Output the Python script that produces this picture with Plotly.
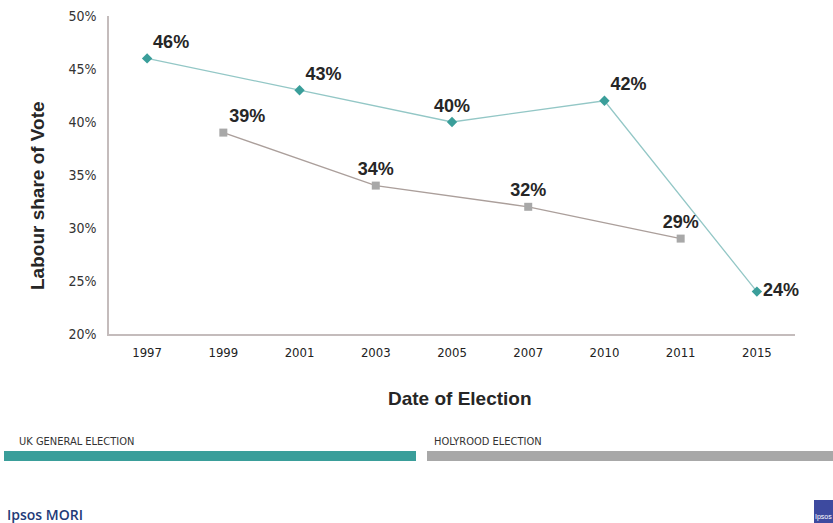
import plotly.graph_objects as go

years = ["1997", "1999", "2001", "2003", "2005", "2007", "2010", "2011", "2015"]
uk_years = ["1997", "2001", "2005", "2010", "2015"]
uk_share = [46, 43, 40, 42, 24]
holy_years = ["1999", "2003", "2007", "2011"]
holy_share = [39, 34, 32, 29]
uk_label_pos = ["top right", "top right", "top center", "top right", "middle right"]
holy_label_pos = ["top right", "top center", "top center", "top center"]
y_ticks = [20, 25, 30, 35, 40, 45, 50]

TEAL = "#3a9e9a"
GRAY = "#a8a8a8"
W, H = 833, 523
L, R, T, B = 109, 38, 16, 189

fig = go.Figure()
lblfont = dict(family="Liberation Sans, Arial", size=18, color="#262626", weight="bold")
fig.add_trace(go.Scatter(
    x=uk_years, y=uk_share, mode="lines+markers+text",
    line=dict(color="#93c7c6", width=1.3),
    marker=dict(symbol="diamond", size=8, color=TEAL),
    text=[f"{v}%" for v in uk_share], textposition=uk_label_pos,
    textfont=lblfont, cliponaxis=False, showlegend=False, hoverinfo="x+y"))
fig.add_trace(go.Scatter(
    x=holy_years, y=holy_share, mode="lines+markers+text",
    line=dict(color="#ab9f9b", width=1.3),
    marker=dict(symbol="square", size=8, color=GRAY),
    text=[f"{v}%" for v in holy_share], textposition=holy_label_pos,
    textfont=lblfont, cliponaxis=False, showlegend=False, hoverinfo="x+y"))

narrow = "Liberation Sans Narrow, DejaVu Sans Condensed, Liberation Sans"
fig.update_xaxes(
    type="category", categoryorder="array", categoryarray=years,
    range=[-0.5, len(years) - 0.5],
    showline=True, linecolor="#c4bcbc", linewidth=1.5, mirror=False,
    showgrid=False, ticks="", ticklabelstandoff=6,
    tickfont=dict(family=narrow, size=13, color="#222222"))
fig.update_yaxes(
    range=[20, 50], tickvals=y_ticks, ticktext=[f"{v}%" for v in y_ticks],
    showline=True, linecolor="#c4bcbc", linewidth=1.5,
    showgrid=False, zeroline=False, ticks="", ticklabelstandoff=8,
    tickfont=dict(family=narrow, size=14, color="#333333"))


def ax(x):
    return (x - L) / (W - L - R)


def ay(y):
    return (H - B - y) / (H - T - B)


shapes = [
    dict(type="rect", xref="paper", yref="paper", x0=ax(4), x1=ax(416), y0=ay(461), y1=ay(451),
         fillcolor=TEAL, line=dict(width=0)),
    dict(type="rect", xref="paper", yref="paper", x0=ax(427), x1=ax(833), y0=ay(461), y1=ay(451),
         fillcolor=GRAY, line=dict(width=0)),
    dict(type="rect", xref="paper", yref="paper", x0=ax(814), x1=ax(833), y0=ay(523), y1=ay(500),
         fillcolor="#3d4a9f", line=dict(width=0)),
]

title_font = dict(family="Liberation Sans, Arial", size=19, color="#262626")
annotations = [
    dict(text="<b>Labour share of Vote</b>", x=ax(37), y=ay(196), xref="paper", yref="paper",
         xanchor="center", yanchor="middle", textangle=-90, showarrow=False, font=title_font),
    dict(text="<b>Date of Election</b>", x=ax(460), y=ay(398), xref="paper", yref="paper",
         xanchor="center", yanchor="middle", showarrow=False, font=title_font),
    dict(text="UK GENERAL ELECTION", x=ax(17), y=ay(441), xref="paper", yref="paper",
         xanchor="left", yanchor="middle", showarrow=False,
         font=dict(family=narrow, size=11, color="#333333")),
    dict(text="HOLYROOD ELECTION", x=ax(432), y=ay(441), xref="paper", yref="paper",
         xanchor="left", yanchor="middle", showarrow=False,
         font=dict(family=narrow, size=11, color="#333333")),
    dict(text="Ipsos MORI", x=ax(5), y=ay(514), xref="paper", yref="paper",
         xanchor="left", yanchor="middle", showarrow=False,
         font=dict(family="Open Sans, Liberation Sans", size=14, color="#233a78", weight=600)),
    dict(text="Ipsos", x=ax(823.5), y=ay(517), xref="paper", yref="paper",
         xanchor="center", yanchor="middle", showarrow=False,
         font=dict(family="Liberation Sans", size=7, color="#ffffff")),
]

fig.update_layout(
    width=W, height=H, margin=dict(l=L, r=R, t=T, b=B, autoexpand=False),
    paper_bgcolor="white", plot_bgcolor="white",
    shapes=shapes, annotations=annotations)

fig.write_html("out.html")
